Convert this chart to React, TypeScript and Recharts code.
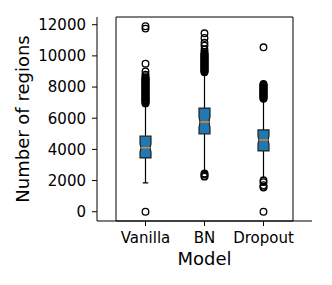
import { ComposedChart, Bar, Scatter, XAxis, YAxis, ReferenceArea, Label } from "recharts";

const models = ["Vanilla", "BN", "Dropout"];
const whiskerLow = [1850, 2550, 2200];
const q1 = [3450, 5000, 3900];
const median = [4100, 5750, 4600];
const q3 = [4850, 6650, 5250];
const whiskerHigh = [6900, 8900, 7200];
const notchLow = [3850, 5400, 4350];
const notchHigh = [4350, 6100, 4850];
const outliers = [
  [0, 6950, 7000, 7050, 7100, 7150, 7200, 7250, 7300, 7350, 7400, 7450, 7500, 7550, 7600, 7650, 7700, 7750, 7800, 7850,
    7900, 7950, 8000, 8050, 8100, 8150, 8200, 8250, 8300, 8350, 8400, 8450, 8500, 8550, 8600, 8700, 8800, 9000, 9500, 11750, 11900],
  [2250, 2300, 2400, 2450, 8950, 9000, 9050, 9100, 9150, 9200, 9250, 9300, 9350, 9400, 9450, 9500, 9550, 9600, 9650, 9700,
    9750, 9800, 9850, 9900, 9950, 10000, 10050, 10100, 10150, 10250, 10400, 10650, 10850, 11150, 11450],
  [0, 1550, 1600, 1700, 1900, 2000, 7250, 7300, 7350, 7400, 7450, 7500, 7550, 7600, 7650, 7700, 7750, 7800, 7850, 7900,
    7950, 8000, 8050, 8100, 8150, 8200, 10550],
];
const yTicks = [0, 2000, 4000, 6000, 8000, 10000, 12000];

const data = models.map((m, i) => ({
  model: m,
  whisker: [whiskerLow[i], whiskerHigh[i]],
  q1: q1[i],
  median: median[i],
  q3: q3[i],
  notchLow: notchLow[i],
  notchHigh: notchHigh[i],
}));

const outlierData = outliers.flatMap((vals, i) => vals.map((v) => ({ model: models[i], value: v })));

const FONT = "DejaVu Sans";

function BoxShape(props: any) {
  const { x, y, width, height, payload } = props;
  const top = Math.min(y, y + height);
  const bottom = Math.max(y, y + height);
  const [lo, hi] = payload.whisker;
  // linear map inside the bar's own (scaled) extent
  const py = (v: number) => top + ((bottom - top) * (hi - v)) / (hi - lo);
  const cx = x + width / 2;
  const cap = width / 4;
  const ind = 1;
  const yq3 = py(payload.q3);
  const yq1 = py(payload.q1);
  const ym = py(payload.median);
  const ynh = py(payload.notchHigh);
  const ynl = py(payload.notchLow);
  const r = x + width;
  const d = `M${x},${yq3} H${r} V${ynh} L${r - ind},${ym} L${r},${ynl} V${yq1} H${x} V${ynl} L${x + ind},${ym} L${x},${ynh} Z`;
  return (
    <g>
      <line x1={cx} x2={cx} y1={top} y2={yq3} stroke="#000" strokeWidth={1.2} />
      <line x1={cx} x2={cx} y1={yq1} y2={bottom} stroke="#000" strokeWidth={1.2} />
      <line x1={cx - cap} x2={cx + cap} y1={top} y2={top} stroke="#000" strokeWidth={1.2} />
      <line x1={cx - cap} x2={cx + cap} y1={bottom} y2={bottom} stroke="#000" strokeWidth={1.2} />
      <path d={d} fill="#1f77b4" stroke="#222" strokeWidth={1.2} />
      <line x1={x + ind} x2={r - ind} y1={ym} y2={ym} stroke="#ff7f0e" strokeWidth={1.5} />
    </g>
  );
}

function Flier(props: any) {
  const { cx, cy } = props;
  return <circle cx={cx} cy={cy} r={3.3} fill="none" stroke="#000" strokeWidth={1.3} />;
}

export default function App() {
  return (
    <div style={{ position: "absolute", left: 0, top: 0 }}>
      <ComposedChart width={332} height={285} data={data} margin={{ top: 17, right: 20, bottom: 0, left: 0 }}>
        <XAxis
          dataKey="model"
          type="category"
          allowDuplicatedCategory={false}
          interval={0}
          padding={{ left: 19, right: 19 }}
          height={64}
          tickSize={5}
          tickMargin={6}
          axisLine={{ stroke: "#000" }}
          tickLine={{ stroke: "#000" }}
          tick={{ fontSize: 15, fill: "#000", fontFamily: FONT }}
        >
          <Label
            content={() => (
              <text x={204.5} y={264.5} textAnchor="middle" fontSize={18} fontFamily={FONT} fill="#000">
                Model
              </text>
            )}
          />
        </XAxis>
        <YAxis
          type="number"
          domain={[-595, 12495]}
          ticks={yTicks}
          allowDataOverflow
          width={97}
          tickSize={5}
          tickMargin={6}
          axisLine={{ stroke: "#000" }}
          tickLine={{ stroke: "#000" }}
          tick={{ fontSize: 15, fill: "#000", fontFamily: FONT }}
        >
          <Label
            content={() => (
              <text x={29} y={119} transform="rotate(-90 29 119)" textAnchor="middle" fontSize={18} fontFamily={FONT} fill="#000">
                Number of regions
              </text>
            )}
          />
        </YAxis>
        <ReferenceArea y1={-595} y2={12495} fill="none" stroke="#000" strokeWidth={1} ifOverflow="extendDomain" />
        <Bar dataKey="whisker" barSize={11} shape={BoxShape} isAnimationActive={false} />
        <Scatter data={outlierData} dataKey="value" shape={Flier} isAnimationActive={false} />
      </ComposedChart>
    </div>
  );
}
